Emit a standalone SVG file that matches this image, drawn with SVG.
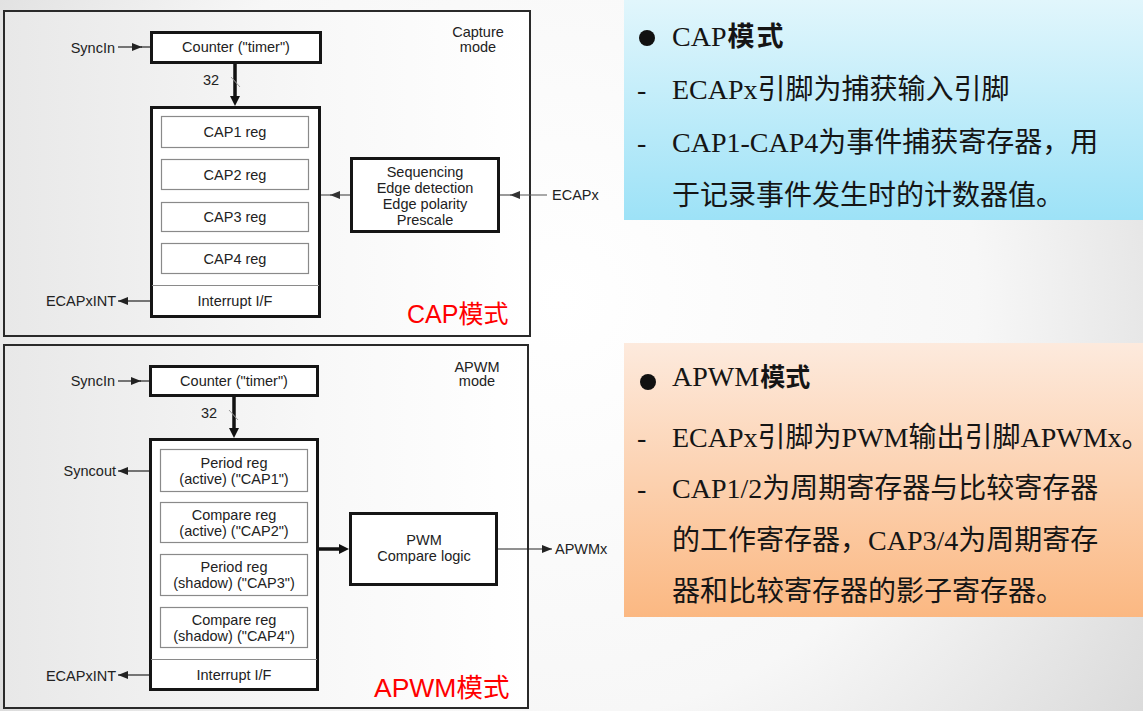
<svg xmlns="http://www.w3.org/2000/svg" width="1143" height="711" viewBox="0 0 1143 711">
<defs>
<radialGradient id="bg" cx="560" cy="300" r="760" gradientUnits="userSpaceOnUse">
<stop offset="0" stop-color="#ffffff"/>
<stop offset="0.55" stop-color="#f7f7f7"/>
<stop offset="1" stop-color="#d6d6d6"/>
</radialGradient>
<linearGradient id="panel" x1="0" y1="0" x2="1" y2="0">
<stop offset="0" stop-color="#e8e8e8"/>
<stop offset="0.6" stop-color="#f8f8f8"/>
<stop offset="1" stop-color="#ffffff"/>
</linearGradient>
<linearGradient id="blue" x1="0" y1="0" x2="0" y2="1">
<stop offset="0" stop-color="#e1f6fc"/>
<stop offset="1" stop-color="#9de2f7"/>
</linearGradient>
<linearGradient id="orange" x1="0" y1="0" x2="0" y2="1">
<stop offset="0" stop-color="#fdeadd"/>
<stop offset="1" stop-color="#fbb882"/>
</linearGradient>
<marker id="ah" viewBox="0 0 10 8" refX="10" refY="4" markerWidth="10" markerHeight="8" markerUnits="userSpaceOnUse" orient="auto"><path d="M0,0L10,4L0,8z" fill="#222"/></marker>
<marker id="ahg" viewBox="0 0 10 8" refX="10" refY="4" markerWidth="10" markerHeight="8" markerUnits="userSpaceOnUse" orient="auto"><path d="M0,0L10,4L0,8z" fill="#333"/></marker>
<marker id="aht" viewBox="0 0 10 10" refX="4" refY="5" markerWidth="10" markerHeight="10" markerUnits="userSpaceOnUse" orient="auto"><path d="M0,0L10,5L0,10z" fill="#111"/></marker>
</defs>
<style>
.panel{fill:url(#panel);stroke:#2a2a2a;stroke-width:2}
.box{fill:#ffffff;stroke:#151515;stroke-width:3}
.reg{fill:#ffffff;stroke:#8a8a8a;stroke-width:1.2}
.sep{stroke:#8a8a8a;stroke-width:1.2}
.t{font-family:"Liberation Sans",Arial,sans-serif;font-size:14.5px;fill:#222}
.c{text-anchor:middle}
.e{text-anchor:end}
.red{font-family:"Liberation Sans",Arial,"Noto Sans CJK SC",sans-serif;fill:#ff0000}
.thin{stroke:#222;stroke-width:1.2;fill:none}
.gray{stroke:#555;stroke-width:1.2;fill:none}
.thick{stroke:#111;stroke-width:3.5;fill:none}
.tick{stroke:#9a9a9a;stroke-width:1;fill:none}
.body{font-family:"Liberation Serif","Times New Roman","Noto Sans CJK SC",serif;font-size:28px;fill:#151515}
.cjkb{font-family:"Noto Sans CJK SC",sans-serif;font-weight:bold}
</style>
<rect x="0" y="0" width="1143" height="711" fill="url(#bg)"/>

<g id="cap-panel">
<rect class="panel" x="4" y="11" width="526" height="325"/>
<text class="t c" x="478" y="37">Capture</text>
<text class="t c" x="478" y="52">mode</text>
<text class="red" x="407" y="323" font-size="25">CAP模式</text>
</g>
<g id="cap-counter">
<rect class="box" x="151.5" y="32.5" width="169" height="30"/>
<text class="t c" x="236" y="52">Counter ("timer")</text>
</g>
<g id="cap-main">
<rect class="box" x="151.5" y="107.5" width="168" height="209"/>
<rect class="reg" x="161.5" y="116.5" width="147" height="31"/>
<text class="t c" x="235" y="137">CAP1 reg</text>
<rect class="reg" x="161.5" y="159.5" width="147" height="30"/>
<text class="t c" x="235" y="179.5">CAP2 reg</text>
<rect class="reg" x="161.5" y="202.5" width="147" height="29"/>
<text class="t c" x="235" y="222">CAP3 reg</text>
<rect class="reg" x="161.5" y="243.5" width="147" height="30"/>
<text class="t c" x="235" y="263.5">CAP4 reg</text>
<line class="sep" x1="152" y1="285.5" x2="319" y2="285.5"/>
<text class="t c" x="235" y="306">Interrupt I/F</text>
</g>
<g id="cap-seq">
<rect class="box" x="351.5" y="158.5" width="147" height="73"/>
<text class="t c" x="425" y="177">Sequencing</text>
<text class="t c" x="425" y="193">Edge detection</text>
<text class="t c" x="425" y="209">Edge polarity</text>
<text class="t c" x="425" y="225">Prescale</text>
</g>
<g id="cap-labels">
<text class="t e" x="115" y="53">SyncIn</text>
<text class="t" x="203" y="85">32</text>
<text class="t e" x="116" y="306">ECAPxINT</text>
<text class="t" x="552" y="200">ECAPx</text>
</g>

<g id="apwm-panel">
<rect class="panel" x="4" y="345" width="524" height="363"/>
<text class="t c" x="477" y="372">APWM</text>
<text class="t c" x="477" y="386">mode</text>
<text class="red" x="374" y="697" font-size="26.5">APWM模式</text>
</g>
<g id="apwm-counter">
<rect class="box" x="150.5" y="366.5" width="167" height="29"/>
<text class="t c" x="234" y="386">Counter ("timer")</text>
</g>
<g id="apwm-main">
<rect class="box" x="150.5" y="439.5" width="167" height="250"/>
<rect class="reg" x="160.5" y="449.5" width="147" height="42"/>
<text class="t c" x="234" y="467.5">Period reg</text>
<text class="t c" x="234" y="483.5">(active) ("CAP1")</text>
<rect class="reg" x="160.5" y="502.5" width="147" height="40"/>
<text class="t c" x="234" y="519.5">Compare reg</text>
<text class="t c" x="234" y="535.5">(active) ("CAP2")</text>
<rect class="reg" x="160.5" y="554.5" width="147" height="41"/>
<text class="t c" x="234" y="572">Period reg</text>
<text class="t c" x="234" y="588">(shadow) ("CAP3")</text>
<rect class="reg" x="160.5" y="607.5" width="147" height="40"/>
<text class="t c" x="234" y="624.5">Compare reg</text>
<text class="t c" x="234" y="640.5">(shadow) ("CAP4")</text>
<line class="sep" x1="151" y1="659.5" x2="317" y2="659.5"/>
<text class="t c" x="234" y="680">Interrupt I/F</text>
</g>
<g id="apwm-pwm">
<rect class="box" x="350.5" y="513.5" width="146" height="71"/>
<text class="t c" x="424" y="545">PWM</text>
<text class="t c" x="424" y="561">Compare logic</text>
</g>
<g id="apwm-labels">
<text class="t e" x="115" y="386">SyncIn</text>
<text class="t" x="201" y="418">32</text>
<text class="t e" x="116" y="476">Syncout</text>
<text class="t e" x="116" y="681">ECAPxINT</text>
<text class="t" x="555" y="554">APWMx</text>
</g>

<g id="connectors">
<line class="thin" x1="118" y1="47" x2="142" y2="47" marker-end="url(#ah)"/>
<line class="thin" x1="141" y1="47" x2="150" y2="47"/>
<line class="thick" x1="235" y1="64" x2="235" y2="100" marker-end="url(#aht)"/>
<line class="tick" x1="231" y1="77" x2="240" y2="87"/>
<line class="gray" x1="350" y1="195" x2="330" y2="195" marker-end="url(#ahg)"/>
<line class="gray" x1="331" y1="195" x2="321" y2="195"/>
<line class="gray" x1="547" y1="195" x2="510" y2="195" marker-end="url(#ahg)"/>
<line class="gray" x1="511" y1="195" x2="500" y2="195"/>
<line class="thin" x1="150" y1="301" x2="118" y2="301" marker-end="url(#ah)"/>

<line class="thin" x1="118" y1="381" x2="141" y2="381" marker-end="url(#ah)"/>
<line class="thin" x1="140" y1="381" x2="149" y2="381"/>
<line class="thick" x1="234" y1="397" x2="234" y2="432" marker-end="url(#aht)"/>
<line class="tick" x1="229" y1="410" x2="238" y2="420"/>
<line class="thin" x1="149" y1="471" x2="118" y2="471" marker-end="url(#ah)"/>
<line class="thin" x1="149" y1="675" x2="118" y2="675" marker-end="url(#ah)"/>
<line class="thick" x1="319" y1="549" x2="343" y2="549" marker-end="url(#aht)"/>
<line class="thin" x1="498" y1="549" x2="552" y2="549" marker-end="url(#ah)"/>
</g>

<g id="cap-note">
<rect x="624" y="0" width="519" height="220" fill="url(#blue)"/>
<circle cx="647" cy="38" r="8" fill="#111"/>
<text class="body" x="672" y="46" font-size="26">CAP<tspan class="cjkb" font-size="27" dx="1" letter-spacing="2">模式</tspan></text>
<text class="body" x="637" y="99">-</text>
<text class="body" x="672" y="99">ECAPx引脚为捕获输入引脚</text>
<text class="body" x="637" y="152">-</text>
<text class="body" x="672" y="152">CAP1-CAP4为事件捕获寄存器，用</text>
<text class="body" x="672" y="205">于记录事件发生时的计数器值。</text>
</g>
<g id="apwm-note">
<rect x="624" y="343" width="519" height="274" fill="url(#orange)"/>
<circle cx="648" cy="382" r="8" fill="#111"/>
<text class="body" x="672" y="386" font-size="24">APWM<tspan class="cjkb" font-size="25" dx="1">模式</tspan></text>
<text class="body" x="637" y="447">-</text>
<text class="body" x="672" y="447" font-size="26">ECAPx引脚为PWM输出引脚APWMx。</text>
<text class="body" x="637" y="498">-</text>
<text class="body" x="672" y="498">CAP1/2为周期寄存器与比较寄存器</text>
<text class="body" x="672" y="550">的工作寄存器，CAP3/4为周期寄存</text>
<text class="body" x="672" y="601">器和比较寄存器的影子寄存器。</text>
</g>
</svg>
